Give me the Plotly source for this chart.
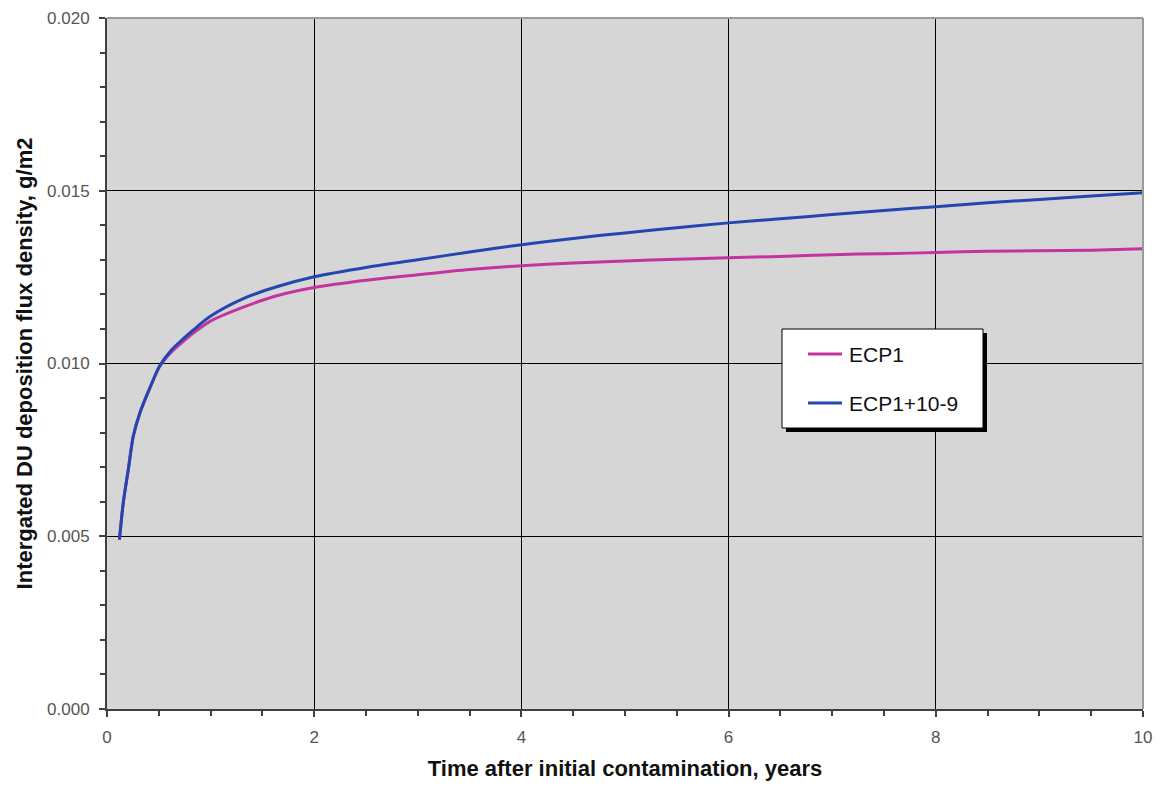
import plotly.graph_objects as go

# Data
t_blue = [0.12, 0.157, 0.206, 0.254, 0.319, 0.415, 0.51, 0.624, 0.737, 0.833, 0.994,
          1.316, 1.638, 2.0, 2.5, 3.0, 3.5, 4.0, 4.5, 5.0, 5.5, 6.0, 6.5, 7.0, 7.5,
          8.0, 8.5, 9.0, 9.5, 10.0]
ecp1_109 = [0.0049, 0.00597, 0.00694, 0.0079, 0.00858, 0.0093, 0.00994, 0.0104, 0.01072,
            0.01097, 0.01136, 0.01188, 0.01222, 0.01251, 0.01278, 0.0130, 0.01323, 0.01344,
            0.01362, 0.01378, 0.01393, 0.01407, 0.01419, 0.01431, 0.01443, 0.01454,
            0.01465, 0.01475, 0.01485, 0.01494]

t_pink = [0.12, 0.157, 0.206, 0.254, 0.319, 0.415, 0.51, 0.624, 0.737, 0.833, 0.994,
          1.316, 1.638, 2.0, 2.5, 3.0, 3.5, 4.0, 4.5, 5.0, 5.5, 6.0, 6.5, 7.0, 7.5,
          8.0, 8.5, 9.0, 9.5, 10.0]
ecp1 = [0.0049, 0.00597, 0.00694, 0.0079, 0.00858, 0.0093, 0.00992, 0.01034, 0.01064,
        0.01088, 0.01122, 0.01163, 0.01196, 0.0122, 0.01241, 0.01257, 0.01272, 0.01283,
        0.01291, 0.01297, 0.01302, 0.01306, 0.0131, 0.01315, 0.01318, 0.01321,
        0.01325, 0.01326, 0.01328, 0.01332]

series_names = ["ECP1", "ECP1+10-9"]
series_colors = ["#C4349E", "#2446B0"]

x_ticks = [0, 2, 4, 6, 8, 10]
y_ticks = [0.000, 0.005, 0.010, 0.015, 0.020]

# page geometry (the html body has an 8px margin)
W, H = 1155, 779
ML, MR, MT, MB = 99, 20, 10, 78
PX0, PY0 = 8 + ML, 8 + MT          # plot area top-left on the page
PW, PH = W - ML - MR, H - MT - MB  # plot area size


def px(x):
    return (x - PX0) / PW


def py(y):
    return 1 - (y - PY0) / PH


FONT = "Liberation Sans, Arial"

fig = go.Figure()
fig.add_trace(go.Scatter(x=t_pink, y=ecp1, mode="lines", name=series_names[0],
                         line=dict(color=series_colors[0], width=3, shape="spline", smoothing=0.8)))
fig.add_trace(go.Scatter(x=t_blue, y=ecp1_109, mode="lines", name=series_names[1],
                         line=dict(color=series_colors[1], width=3, shape="spline", smoothing=0.8)))

axis_common = dict(
    showline=True, linecolor="#404040", linewidth=2,
    ticks="outside", ticklen=6, tickcolor="#404040", tickwidth=1.5,
    showgrid=True, gridcolor="#000000", gridwidth=1,
    zeroline=False, automargin=False,
    tickfont=dict(family=FONT, size=17, color="#555555"),
)

fig.update_xaxes(range=[0, 10], tickvals=x_ticks, ticktext=[str(v) for v in x_ticks],
                 ticklabelstandoff=6,
                 minor=dict(dtick=0.5, ticks="outside", ticklen=5, tickcolor="#404040", showgrid=False),
                 title=dict(text="<b>Time after initial contamination, years</b>",
                            font=dict(family=FONT, size=22, color="#111111"),
                            standoff=14),
                 **axis_common)
fig.update_yaxes(range=[0, 0.020], tickvals=y_ticks, ticktext=[f"{v:.3f}" for v in y_ticks],
                 ticklabelstandoff=6,
                 minor=dict(dtick=0.001, ticks="outside", ticklen=5, tickcolor="#404040", showgrid=False),
                 title=dict(text="<b>Intergated DU deposition flux density, g/m2</b>",
                            font=dict(family=FONT, size=22, color="#111111"),
                            standoff=8),
                 **axis_common)

# gray frame on top/right
fig.add_shape(type="line", xref="paper", yref="paper", x0=0, x1=1, y0=1, y1=1,
              line=dict(color="#9a9a9a", width=2), layer="above")
fig.add_shape(type="line", xref="paper", yref="paper", x0=1, x1=1, y0=0, y1=1,
              line=dict(color="#9a9a9a", width=2), layer="above")

# legend box (drawn manually to match the reference box size)
fig.add_shape(type="rect", xref="paper", yref="paper",
              x0=px(786), x1=px(987), y0=py(432), y1=py(333),
              fillcolor="#000000", line=dict(width=0), layer="above")
fig.add_shape(type="rect", xref="paper", yref="paper",
              x0=px(782), x1=px(983), y0=py(428), y1=py(329),
              fillcolor="#FFFFFF", line=dict(color="#000000", width=1), layer="above")
for i, (name, col) in enumerate(zip(series_names, series_colors)):
    yc = 354 + i * 49
    fig.add_shape(type="line", xref="paper", yref="paper",
                  x0=px(808), x1=px(842), y0=py(yc), y1=py(yc),
                  line=dict(color=col, width=3), layer="above")
    fig.add_annotation(xref="paper", yref="paper", x=px(847), y=py(yc),
                       xanchor="left", yanchor="middle", text=name, showarrow=False,
                       font=dict(family=FONT, size=21, color="#111111"))

fig.update_layout(
    width=W, height=H,
    margin=dict(l=ML, r=MR, t=MT, b=MB),
    plot_bgcolor="#D6D6D6", paper_bgcolor="#FFFFFF",
    showlegend=False,
    font=dict(family=FONT),
)

fig.write_html("out.html")
